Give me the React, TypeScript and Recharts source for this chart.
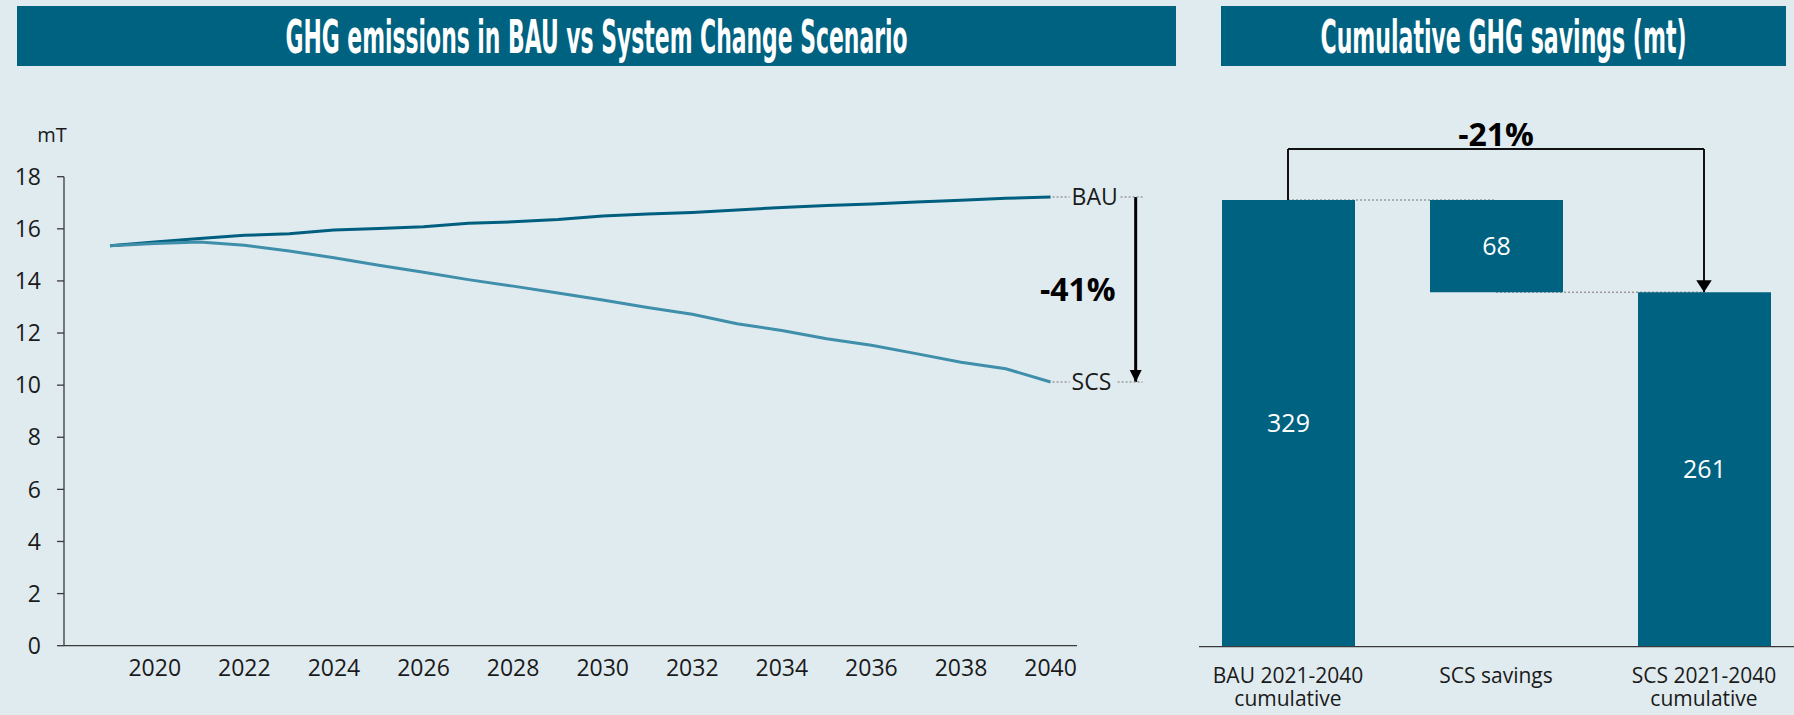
import React from 'react';
import {
  LineChart,
  Line,
  XAxis,
  YAxis,
  ReferenceLine,
  ReferenceDot,
  BarChart,
  Bar,
  LabelList,
} from 'recharts';

const BG = '#e0ebf0';
const TEAL = '#006281';
const BAU_COLOR = '#005f7f';
const SCS_COLOR = '#3f8fab';
const INK = '#1a1a1a';
const AXIS = '#3a3a3a';
const DOTS = '#9a9a9a';
const FONT = "'Open Sans', 'Noto Sans', sans-serif";
const TITLE_FONT = "'Liberation Sans Narrow', 'DejaVu Sans Condensed', 'Roboto', sans-serif";

// left panel: yearly emissions, mT
const years = [
  2019, 2020, 2021, 2022, 2023, 2024, 2025, 2026, 2027, 2028, 2029,
  2030, 2031, 2032, 2033, 2034, 2035, 2036, 2037, 2038, 2039, 2040,
];
const bau = [
  15.35, 15.49, 15.63, 15.75, 15.81, 15.95, 16.01, 16.08, 16.21, 16.27, 16.36,
  16.49, 16.57, 16.63, 16.72, 16.82, 16.89, 16.95, 17.03, 17.1, 17.17, 17.22,
];
const scs = [
  15.35, 15.44, 15.49, 15.37, 15.15, 14.89, 14.6, 14.33, 14.05, 13.8, 13.54,
  13.27, 12.98, 12.72, 12.36, 12.1, 11.78, 11.53, 11.21, 10.88, 10.63, 10.12,
];
const xTicks = [2020, 2022, 2024, 2026, 2028, 2030, 2032, 2034, 2036, 2038, 2040];
const yTicks = [0, 2, 4, 6, 8, 10, 12, 14, 16, 18];
const ARROW_X = 2041.9; // where the -41% arrow sits
const leftTitle = 'GHG emissions in BAU vs System Change Scenario';

// right panel: cumulative savings waterfall
const barCategories = ['BAU 2021-2040\ncumulative', 'SCS savings', 'SCS 2021-2040\ncumulative'];
const barValues = [329, 68, 261];
const barBases = [0, 261, 0];
const BRACKET_Y = 366.6;
const rightTitle = 'Cumulative GHG savings (mt)';

const lineData = years.map((year, i) => ({ year, bau: bau[i], scs: scs[i] }));
const barData = barCategories.map((name, i) => ({ name, base: barBases[i], value: barValues[i] }));
const last = years.length - 1;

const endLabel = (name: string, afterGap: number) => (props: any) => {
  if (props.index !== last) return null;
  const x = props.viewBox?.x ?? props.x;
  const y = props.viewBox?.y ?? props.y;
  return (
    <g>
      <line x1={x + 2} y1={y} x2={x + 19} y2={y} stroke={DOTS} strokeWidth={1.5} strokeDasharray="2 2" />
      <text x={x + 21} y={y} dy="0.36em" fontSize={23} fontFamily={FONT} fill={INK}>
        {name}
      </text>
      <line x1={x + afterGap} y1={y} x2={x + 92} y2={y} stroke={DOTS} strokeWidth={1.5} strokeDasharray="2 2" />
    </g>
  );
};

const downArrow = (w: number, h: number) => (p: any) => (
  <path d={`M${p.cx - w / 2},${p.cy - h} L${p.cx + w / 2},${p.cy - h} L${p.cx},${p.cy} Z`} fill="#000" />
);

const CatTick = ({ x, y, payload }: any) => {
  const lines = String(payload.value).split('\n');
  return (
    <text x={x} y={y} textAnchor="middle" fontSize={21} fontFamily={FONT} fill={INK}>
      {lines.map((l, i) => (
        <tspan key={i} x={x} dy={i === 0 ? 36.5 : 23}>
          {l}
        </tspan>
      ))}
    </text>
  );
};

// condensed title: drawn small, stretched up, width pinned by textLength
const TitleBar = ({ x, width, text, textWidth }: any) => (
  <g>
    <rect x={x} y={6} width={width} height={60} fill={TEAL} />
    <text
      transform={`translate(${x + width / 2}, 52.5) scale(1, 1.565)`}
      x={0}
      y={0}
      textAnchor="middle"
      fill="#fff"
      fontSize={30}
      fontWeight={700}
      fontFamily={TITLE_FONT}
      textLength={textWidth}
      lengthAdjust="spacingAndGlyphs"
    >
      {text}
    </text>
  </g>
);

export default function App() {
  return (
    <div
      style={{
        position: 'absolute',
        left: 0,
        top: 0,
        width: 1794,
        height: 715,
        overflow: 'hidden',
        background: BG,
      }}
    >
      <svg width={1794} height={715} style={{ position: 'absolute', left: 0, top: 0 }}>
        <TitleBar x={17} width={1159} text={leftTitle} textWidth={622} />
        <TitleBar x={1221} width={565} text={rightTitle} textWidth={366} />
      </svg>

      {/* 左图：年度排放 */}
      <div style={{ position: 'absolute', left: 0, top: 0 }}>
        <LineChart width={1180} height={715} data={lineData} margin={{ top: 176.7, right: 103, bottom: 0, left: 0 }}>
          <XAxis
            dataKey="year"
            type="number"
            domain={[2017.973, 2040.59]}
            allowDataOverflow
            ticks={xTicks}
            interval={0}
            tickLine={false}
            tickSize={0}
            tickMargin={14}
            height={69.3}
            axisLine={{ stroke: AXIS, strokeWidth: 1.3 }}
            tick={{ fill: INK, fontSize: 23, fontFamily: FONT }}
          />
          <YAxis
            width={64}
            domain={[0, 18]}
            ticks={yTicks}
            interval={0}
            tickSize={7}
            tickMargin={16}
            axisLine={{ stroke: AXIS, strokeWidth: 1.3 }}
            tickLine={{ stroke: AXIS, strokeWidth: 1.3 }}
            tick={{ fill: INK, fontSize: 23, fontFamily: FONT }}
            label={{
              content: (p: any) => (
                <text x={52} y={(p.viewBox?.y ?? 176.7) - 35} textAnchor="middle" fontSize={20} fontFamily={FONT} fill={INK}>
                  mT
                </text>
              ),
            }}
          />
          <Line
            type="linear"
            dataKey="bau"
            stroke={BAU_COLOR}
            strokeWidth={3}
            dot={false}
            isAnimationActive={false}
            label={endLabel('BAU', 70)}
          />
          <Line
            type="linear"
            dataKey="scs"
            stroke={SCS_COLOR}
            strokeWidth={3}
            dot={false}
            isAnimationActive={false}
            label={endLabel('SCS', 67)}
          />
          <ReferenceLine
            segment={[
              { x: ARROW_X, y: bau[last] },
              { x: ARROW_X, y: scs[last] },
            ]}
            stroke="#000"
            strokeWidth={3}
            ifOverflow="visible"
            label={{
              value: '-41%',
              position: 'left',
              offset: 20,
              fill: '#000',
              fontSize: 32,
              fontWeight: 700,
              fontFamily: FONT,
            }}
          />
          <ReferenceDot x={ARROW_X} y={scs[last]} ifOverflow="visible" shape={downArrow(12, 12)} />
        </LineChart>
      </div>

      {/* 右图：累计节省瀑布图 */}
      <div style={{ position: 'absolute', left: 1180, top: 0 }}>
        <BarChart width={614} height={715} data={barData} margin={{ top: 103.6, right: 0, bottom: 0, left: 19 }} barSize={133}>
          <XAxis
            dataKey="name"
            type="category"
            padding={{ left: -15, right: -14 }}
            interval={0}
            tickLine={false}
            tickSize={0}
            tickMargin={0}
            height={68.3}
            axisLine={{ stroke: AXIS, strokeWidth: 1.3 }}
            tick={<CatTick />}
          />
          <YAxis hide domain={[0, 400]} />
          <ReferenceLine
            segment={[
              { x: barCategories[0], y: barValues[0] },
              { x: barCategories[1], y: barValues[0] },
            ]}
            stroke={DOTS}
            strokeWidth={1.5}
            strokeDasharray="2 2"
            zIndex={250}
          />
          <ReferenceLine
            segment={[
              { x: barCategories[1], y: barValues[2] },
              { x: barCategories[2], y: barValues[2] },
            ]}
            stroke={DOTS}
            strokeWidth={1.5}
            strokeDasharray="2 2"
            zIndex={250}
          />
          <Bar dataKey="base" stackId="w" fill="transparent" isAnimationActive={false} />
          <Bar dataKey="value" stackId="w" fill={TEAL} isAnimationActive={false}>
            <LabelList dataKey="value" position="center" fill="#fff" fontSize={25} fontFamily={FONT} />
          </Bar>
          <ReferenceLine
            segment={[
              { x: barCategories[0], y: barValues[0] },
              { x: barCategories[0], y: BRACKET_Y },
            ]}
            stroke="#111"
            strokeWidth={2}
            ifOverflow="visible"
          />
          <ReferenceLine
            segment={[
              { x: barCategories[0], y: BRACKET_Y },
              { x: barCategories[2], y: BRACKET_Y },
            ]}
            stroke="#111"
            strokeWidth={2}
            ifOverflow="visible"
            label={{
              value: '-21%',
              position: 'top',
              offset: 3,
              fill: '#000',
              fontSize: 32,
              fontWeight: 700,
              fontFamily: FONT,
            }}
          />
          <ReferenceLine
            segment={[
              { x: barCategories[2], y: BRACKET_Y },
              { x: barCategories[2], y: barValues[2] },
            ]}
            stroke="#111"
            strokeWidth={2}
            ifOverflow="visible"
          />
          <ReferenceDot x={barCategories[2]} y={barValues[2]} ifOverflow="visible" shape={downArrow(15.5, 12)} />
        </BarChart>
      </div>
    </div>
  );
}
